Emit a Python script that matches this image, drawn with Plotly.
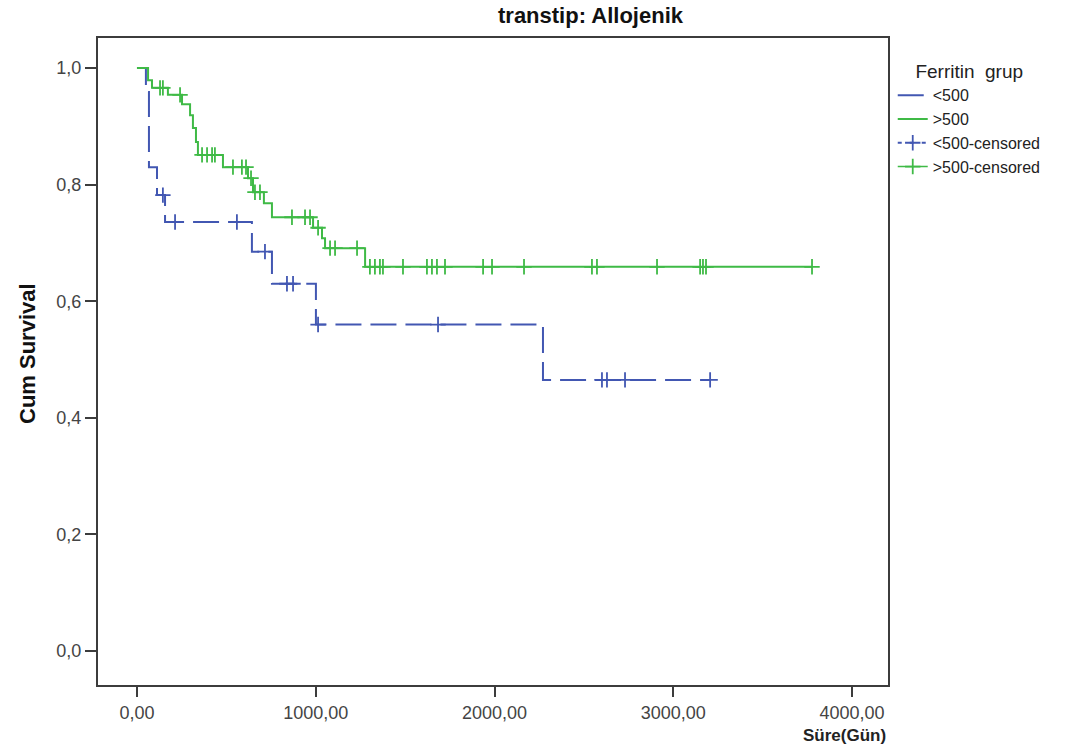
import plotly.graph_objects as go

# ---- data (Kaplan-Meier, Ferritin grup) ----
lt500_times = [50, 67, 112, 157, 643, 755, 1001, 2271]
lt500_surv = [0.959, 0.830, 0.782, 0.736, 0.685, 0.630, 0.560, 0.465]
lt500_censor = [145, 213, 559, 716, 839, 873, 1013, 1684, 2601, 2629, 2730, 3206]

gt500_times = [62, 84, 173, 252, 297, 313, 330, 341, 481, 621, 649, 710, 755,
               985, 1035, 1052, 1276]
gt500_surv = [0.979, 0.966, 0.954, 0.938, 0.919, 0.897, 0.873, 0.851, 0.830,
              0.811, 0.787, 0.768, 0.744, 0.726, 0.708, 0.691, 0.659]
gt500_censor = [129, 145, 241, 364, 392, 420, 436, 537, 587, 610, 638, 660, 688,
                867, 940, 968, 1013, 1080, 1108, 1231, 1303, 1331, 1359, 1376,
                1488, 1622, 1650, 1678, 1723, 1936, 1986, 2165, 2545, 2573,
                2909, 3150, 3166, 3183, 3776]

x_ticks = [0, 1000, 2000, 3000, 4000]
x_ticklabels = ["0,00", "1000,00", "2000,00", "3000,00", "4000,00"]
y_ticks = [0, 0.2, 0.4, 0.6, 0.8, 1.0]
y_ticklabels = ["0,0", "0,2", "0,4", "0,6", "0,8", "1,0"]

title_text = "transtip: Allojenik"
legend_title = "Ferritin\u00a0 grup"
names = ["<500", ">500", "<500-censored", ">500-censored"]

BLUE = "#4257b2"
GREEN = "#3fba46"
AXC = "#3c3c3c"
FONT = "Arial, Liberation Sans, sans-serif"


def step_path(times, surv, end):
    xs = [0] + list(times) + [end]
    ys = [1.0] + list(surv) + [surv[-1]]
    return xs, ys


def level_at(times, surv, t):
    s = 1.0
    for ti, si in zip(times, surv):
        if ti <= t:
            s = si
    return s


fig = go.Figure()

bx, by = step_path(lt500_times, lt500_surv, max(lt500_censor))
gx, gy = step_path(gt500_times, gt500_surv, max(gt500_censor))

dash_blue = "26px,9px"

fig.add_trace(go.Scatter(x=bx, y=by, mode="lines", line_shape="hv", name=names[0],
                         line=dict(color=BLUE, width=2, dash=dash_blue)))
fig.add_trace(go.Scatter(x=gx, y=gy, mode="lines", line_shape="hv", name=names[1],
                         line=dict(color=GREEN, width=2)))

# censored marks
fig.add_trace(go.Scatter(
    x=lt500_censor, y=[level_at(lt500_times, lt500_surv, t) for t in lt500_censor],
    mode="markers", showlegend=False, name=names[2],
    marker=dict(symbol="cross-thin", size=11, color=BLUE,
                line=dict(color=BLUE, width=1.8))))
fig.add_trace(go.Scatter(
    x=gt500_censor, y=[level_at(gt500_times, gt500_surv, t) for t in gt500_censor],
    mode="markers", showlegend=False, name=names[3],
    marker=dict(symbol="cross-thin", size=11, color=GREEN,
                line=dict(color=GREEN, width=1.8))))

# legend entries for censored series (line + cross sample)
fig.add_trace(go.Scatter(x=[None], y=[None], mode="lines+markers", name=names[2],
                         line=dict(color=BLUE, width=2, dash="4px,8px"),
                         marker=dict(symbol="cross-thin", size=11, color=BLUE,
                                     line=dict(color=BLUE, width=1.8))))
fig.add_trace(go.Scatter(x=[None], y=[None], mode="lines+markers", name=names[3],
                         line=dict(color=GREEN, width=1.5),
                         marker=dict(symbol="cross-thin", size=11, color=GREEN,
                                     line=dict(color=GREEN, width=1.8))))

axis_common = dict(showgrid=False, zeroline=False, showline=True, mirror=True,
                   linecolor=AXC, linewidth=2, ticks="outside", tickcolor=AXC,
                   tickwidth=2, tickfont=dict(family=FONT, size=18, color="#444444"))

fig.update_xaxes(range=[-218, 4201], tickmode="array", tickvals=x_ticks,
                 ticktext=x_ticklabels, ticklen=10, **axis_common)
fig.update_yaxes(range=[-0.0583, 1.0515], tickmode="array", tickvals=y_ticks,
                 ticktext=y_ticklabels, ticklen=11, **axis_common)

fig.update_layout(
    width=1090, height=751,
    margin=dict(l=98, r=202, t=38, b=66),
    paper_bgcolor="white", plot_bgcolor="white",
    font=dict(family=FONT, color="#222222"),
    legend=dict(x=1.006, y=0.976, xanchor="left", yanchor="top",
                font=dict(family=FONT, size=16, color="#222222"),
                title=dict(text=legend_title, side="top center",
                           font=dict(family=FONT, size=19, color="#222222")),
                tracegroupgap=0, bgcolor="rgba(0,0,0,0)"),
    annotations=[
        dict(text="<b>" + title_text + "</b>", xref="paper", yref="paper",
             x=0.624, y=1.0355, xanchor="center", yanchor="middle",
             showarrow=False, font=dict(family=FONT, size=22, color="#111111")),
        dict(text="<b>Cum Survival</b>", xref="paper", yref="paper",
             x=-0.0886, y=0.5116, xanchor="center", yanchor="middle",
             textangle=-90, showarrow=False,
             font=dict(family=FONT, size=22, color="#111111")),
        dict(text="<b>Süre(Gün)</b>", xref="paper", yref="paper",
             x=1.0, y=-0.0773, xanchor="right", yanchor="middle",
             showarrow=False, font=dict(family=FONT, size=17, color="#222222")),
    ],
)

fig.write_html("out.html")
